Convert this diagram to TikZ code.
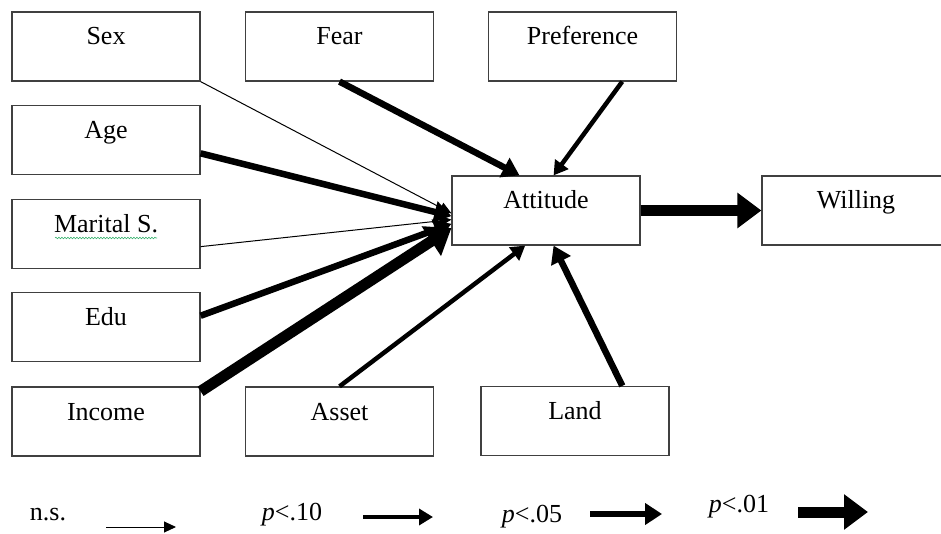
\documentclass[tikz,border=0pt]{standalone}
\usepackage{fontspec}
\setmainfont{Liberation Serif}
\usetikzlibrary{calc,arrows.meta,decorations.pathmorphing}
\definecolor{edge}{HTML}{404040}
\definecolor{spell}{HTML}{3CB371}
\tikzset{
  var/.style={draw=edge, line width=1.2pt, minimum width=188pt, inner sep=0pt,
    text height=33pt, text depth=36pt, font=\fontsize{26}{30}\selectfont},
  ns/.style={line width=1pt, -{Triangle[length=12pt,width=11pt]}},
  pten/.style={line width=4.5pt, -{Triangle[length=14pt,width=16pt]}},
  pfive/.style={line width=6.5pt, -{Triangle[length=17pt,width=21pt]}},
  pone/.style={line width=11pt, -{Triangle[length=24pt,width=34pt]}},
  lab/.style={font=\fontsize{26}{30}\selectfont, inner sep=0pt, anchor=base},
}

\begin{document}
\begin{tikzpicture}[x=1pt,y=-1pt]
  \useasboundingbox (0,0) rectangle (941,534);
  \clip (0,0) rectangle (941,534);

  % predictors
  \node[var] (sex)     at (106,46.5)  {Sex};
  \node[var] (fear)    at (339.5,46.5) {Fear};
  \node[var] (pref)    at (582.5,46.5) {Preference};
  \node[var] (age)     at (106,140)   {Age};
  \node[var] (marital) at (106,234)   {Marital S.};
  \node[var] (edu)     at (106,327)   {Edu};
  \node[var] (income)  at (106,421.5) {Income};
  \node[var] (asset)   at (339.5,421.5) {Asset};
  \node[var] (land)    at (575,421)   {Land};
  % outcomes
  \node[var] (att)     at (546,210.5) {Attitude};
  \node[var] (will)    at (856,210.5) {Willing};

  \draw[spell, line width=0.6pt, decorate,
    decoration={snake, amplitude=0.8pt, segment length=3pt}] (55,238) -- (157,238);

  \draw[ns]    (sex.south east) -- ($(att.north west)!0.54!(att.south west)$);
  \draw[pfive] ($(age.north east)!0.69!(age.south east)$) -- ($(att.north west)!0.58!(att.south west)$);
  \draw[ns]    ($(marital.north east)!0.68!(marital.south east)$) -- ($(att.north west)!0.63!(att.south west)$);
  \draw[pfive] ($(edu.north east)!0.34!(edu.south east)$) -- ($(att.north west)!0.69!(att.south west)$);
  \draw[pone]  ($(income.north east)!0.07!(income.south east)$) -- ($(att.north west)!0.75!(att.south west)$);
  \draw[pfive] (fear.south) -- ($(att.north west)!0.36!(att.north east)$);
  \draw[pten]  ($(pref.south west)!0.71!(pref.south east)$) -- ($(att.north west)!0.54!(att.north east)$);
  \draw[pten]  (asset.north) -- ($(att.south west)!0.39!(att.south east)$);
  \draw[pfive] ($(land.north west)!0.75!(land.north east)$) -- ($(att.south west)!0.54!(att.south east)$);
  \draw[pone]  (att.east) -- (will.west);

  % legend
  \node[lab] (lns)   at (48,520)  {n.s.};
  \node[lab] (lten)  at (292,520) {\textit{p}<.10};
  \node[lab] (lfive) at (532,522) {\textit{p}<.05};
  \node[lab] (lone)  at (739,512) {\textit{p}<.01};
  \coordinate (ns0) at (106,527);   \coordinate (ns1) at (176,527);
  \coordinate (ten0) at (363,517);  \coordinate (ten1) at (433,517);
  \coordinate (five0) at (590,514); \coordinate (five1) at (662,514);
  \coordinate (one0) at (798,512);  \coordinate (one1) at (868,512);
  \draw[ns]    (ns0) -- (ns1);
  \draw[pten]  (ten0) -- (ten1);
  \draw[pfive] (five0) -- (five1);
  \draw[pone]  (one0) -- (one1);
\end{tikzpicture}
\end{document}
